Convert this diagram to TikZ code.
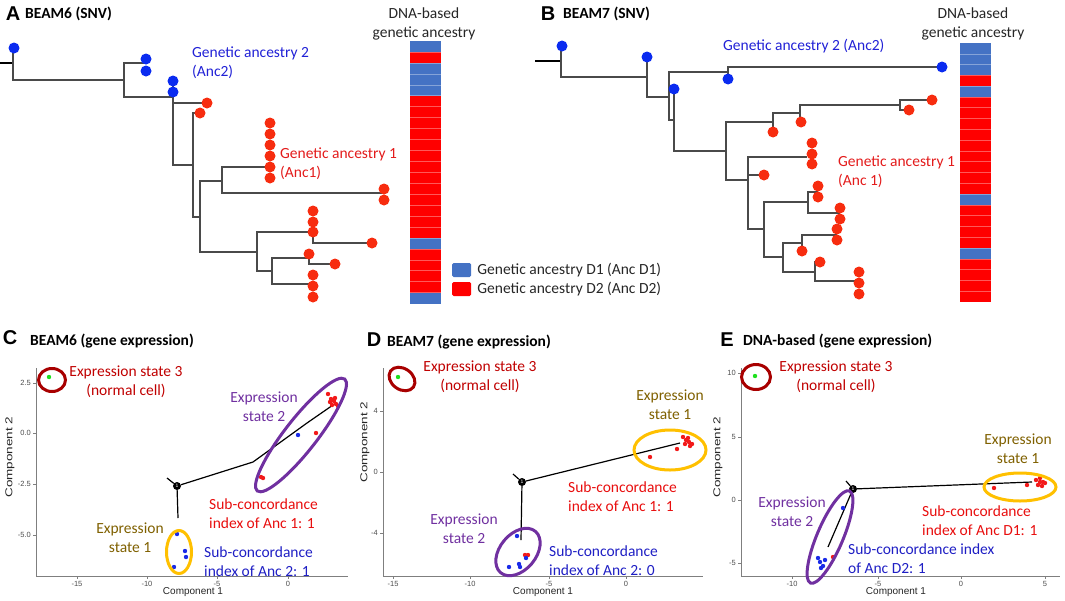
\documentclass[tikz,border=0pt]{standalone}
\usepackage{fontspec}
\setmainfont{Carlito}
\newfontfamily\arialfont{Liberation Sans}
\usetikzlibrary{positioning}
\definecolor{treeline}{HTML}{4A4A4A}
\definecolor{tipblue}{HTML}{0A2BF0}
\definecolor{tipred}{HTML}{F72C0F}
\definecolor{barbb}{HTML}{4472C4}
\definecolor{barrr}{HTML}{FF0000}
\definecolor{ancblue}{HTML}{2121D6}
\definecolor{ancred}{HTML}{E31B1B}
\definecolor{txtdred}{HTML}{C00000}
\definecolor{txtolive}{HTML}{7F6000}
\definecolor{txtpurple}{HTML}{7030A0}
\definecolor{subred}{HTML}{E80E0E}
\definecolor{subblue}{HTML}{1F1FC4}
\definecolor{ringred}{HTML}{A80000}
\definecolor{ringorange}{HTML}{FFC000}
\definecolor{ptgreen}{HTML}{1EE01E}
\definecolor{ptred}{HTML}{F21A1A}
\definecolor{ptblue}{HTML}{1A2BE8}
\definecolor{axgray}{HTML}{7F7F7F}
\definecolor{tickgray}{HTML}{4D4D4D}

\begin{document}
\begin{tikzpicture}[x=1pt,y=-1pt,
 panel/.style={font=\arialfont\bfseries\fontsize{20}{20}\selectfont,inner sep=0},
 ttl/.style={font=\bfseries\fontsize{15.5}{19}\selectfont,inner sep=0,anchor=west},
 lbl/.style={font=\fontsize{15.5}{19}\selectfont,inner sep=0,align=left},
 clbl/.style={lbl,align=center},
 branch/.style={draw=treeline,line width=1.3pt},
 legsq/.style={rounded corners=1.5pt,minimum width=19pt,minimum height=14pt,inner sep=0},
 tick/.style={font=\arialfont\fontsize{7.5}{8}\selectfont,text=tickgray,inner sep=0},
 axlab/.style={font=\arialfont\fontsize{10}{10}\selectfont,text=black!85,inner sep=0},
 axis/.style={draw=axgray,line width=0.8pt},
 ring/.style={line width=3pt},
 traj/.style={draw=black,line width=1.2pt},
 knot/.style={circle,fill=black,minimum size=8pt,inner sep=0,text=white,font=\arialfont\fontsize{5}{5}\selectfont}]
\useasboundingbox (0,0) rectangle (1065,600);

% A: BEAM6 tree
\node[panel] (letA) at (13,14) {A};
\node[ttl] (titA) at (25,14) {BEAM6 (SNV)};
\draw[black,line width=1.3pt] (0,63) -- (13,63);
\draw[branch] (13,48) -- (13,80) -- (124,80);
\draw[branch] (146,63) -- (124,63) -- (124,97) -- (173,97);
\draw[branch] (173,81) -- (173,165) -- (193,165);
\draw[branch] (173,103) -- (207,103);
\draw[branch] (200,113) -- (193,113) -- (193,217) -- (200,217);
\draw[branch] (222,181) -- (200,181) -- (200,252) -- (257,252);
\draw[branch] (270,167) -- (222,167) -- (222,193) -- (384,193);
\draw[branch] (313,232) -- (257,232) -- (257,271) -- (272,271);
\draw[branch] (313,232) -- (313,243) -- (372,243);
\draw[branch] (309,258) -- (272,258) -- (272,284) -- (313,284);
\draw[branch] (309,254) -- (309,264) -- (335,264);
\foreach \x/\y in {14/48,146/59,146/71,173/81,173/92}
  \fill[tipblue] (\x,\y) circle (5.5);
\foreach \x/\y in {207/103,200/113,270/123,270/134,270/145,270/156,270/167,270/178,384/189,384/200,
  313/211,313/222,313/232,372/243,309/254,335/264,313/275,313/286,313/297}
  \fill[tipred] (\x,\y) circle (5.5);
\node[lbl,text=ancblue,anchor=west] (anc2A) at (192,62.5) {Genetic ancestry 2\\(Anc2)};
\node[lbl,text=ancred,anchor=west] (anc1A) at (280,163.5) {Genetic ancestry 1\\(Anc1)};

% A: DNA-based bar and legend
\node[clbl,text=black!85] (hdrA) at (424,23.5) {DNA-based\\genetic ancestry};
\foreach \c [count=\i from 0] in {bb,rr,bb,bb,bb,rr,rr,rr,rr,rr,rr,rr,rr,rr,rr,rr,rr,rr,bb,rr,rr,rr,rr,bb}
  \fill[fill=bar\c] (410,41+\i*10.94) rectangle ++(31,10.94);
\foreach \i in {1,...,23}
  \draw[white,opacity=.35,line width=.5pt] (410,41+\i*10.94) -- ++(31,0);
\node[legsq,fill=barbb] (legD1) at (461.5,270) {};
\node[legsq,fill=barrr] (legD2) at (461.5,289) {};
\node[lbl,text=black!85,right=6pt of legD1] (legtxt1) {Genetic ancestry D1 (Anc D1)};
\node[lbl,text=black!85,right=6pt of legD2] (legtxt2) {Genetic ancestry D2 (Anc D2)};

% B: BEAM7 tree
\node[panel] (letB) at (548,14) {B};
\node[ttl] (titB) at (563,14) {BEAM7 (SNV)};
\draw[black,line width=1.3pt] (535,61) -- (561,61);
\draw[branch] (561,46) -- (561,77) -- (647,77);
\draw[branch] (647,57) -- (647,97) -- (669,97);
\draw[branch] (728,72) -- (669,72) -- (669,120) -- (674,120);
\draw[branch] (942,67) -- (728,67) -- (728,79);
\draw[branch] (674,89) -- (674,151) -- (726,151);
\draw[branch] (773,122) -- (726,122) -- (726,180) -- (748,180);
\draw[branch] (800,113) -- (773,113) -- (773,132);
\draw[branch] (900,105) -- (800,105) -- (800,122);
\draw[branch] (932,100) -- (900,100) -- (900,110) -- (909,110);
\draw[branch] (807,157) -- (748,157) -- (748,229) -- (764,229);
\draw[branch] (748,175) -- (764,175);
\draw[branch] (808,202) -- (764,202) -- (764,257) -- (783,257);
\draw[branch] (818,192) -- (808,192) -- (808,213) -- (840,213);
\draw[branch] (802,243) -- (783,243) -- (783,272) -- (815,272);
\draw[branch] (837,235) -- (802,235) -- (802,251);
\draw[branch] (820,262) -- (815,262) -- (815,281) -- (858,281);
\foreach \x/\y in {562/46,647/57,674/89,728/79,942/67}
  \fill[tipblue] (\x,\y) circle (5.5);
\foreach \x/\y in {773/132,801/122,932/100,909/110,812/143,812/154,812/164,764/175,818/186,818/197,
  840/208,840/219,837/229,837/240,802/251,820/262,859/272,859/283,859/294}
  \fill[tipred] (\x,\y) circle (5.5);
\node[lbl,text=ancblue,anchor=west] (anc2B) at (723,46) {Genetic ancestry 2 (Anc2)};
\node[lbl,text=ancred,anchor=west] (anc1B) at (838,172) {Genetic ancestry 1\\(Anc 1)};
\node[clbl,text=black!85] (hdrB) at (973,24) {DNA-based\\genetic ancestry};
\foreach \c [count=\i from 0] in {bb,bb,bb,rr,bb,rr,rr,rr,rr,rr,rr,rr,rr,rr,bb,rr,rr,rr,rr,bb,rr,rr,rr,rr}
  \fill[fill=bar\c] (960,43+\i*10.79) rectangle ++(31,10.79);
\foreach \i in {1,...,23}
  \draw[white,opacity=.35,line width=.5pt] (960,43+\i*10.79) -- ++(31,0);

% C: BEAM6 expression
\node[panel] (letC) at (10,338) {C};
\node[ttl] (titC) at (30,341) {BEAM6 (gene expression)};
\draw[axis] (36,368) -- (36,576) -- (348,576);
\foreach \v/\y [count=\i] in {2.5/383,0.0/433,-2.5/484,-5.0/535} {
  \draw[axis] (33,\y) -- (36,\y);
  \node[tick,anchor=east] (ytC\i) at (31,\y) {\v};}
\foreach \v/\x [count=\i] in {-15/77,-10/147,-5/217,0/288} {
  \draw[axis] (\x,576) -- (\x,579);
  \node[tick] (xtC\i) at (\x,584) {\v};}
\node[axlab] (xlabC) at (193,592) {Component 1};
\node[axlab,rotate=90,xscale=1.35] (ylabC) at (10,457) {Component 2};
\node[knot] (brC) at (177,486) {1};
\coordinate (tC1) at (333,405);
\coordinate (tC2) at (178,518);
\coordinate (tC3) at (167,478);
\draw[traj] (brC) -- (253,462) -- (307,423) -- (tC1);
\draw[traj] (brC) -- (tC2);
\draw[traj] (brC) -- (tC3);
\fill[ptgreen] (49,377) circle (2.2);
\foreach \x/\y in {328/394,331/399,334/401,336/404,332/405,338/406,330/402,335/398,316/433,261/477,263/478}
  \fill[ptred] (\x,\y) circle (2.2);
\foreach \x/\y in {298/435,177/534,185/551,186/557,174/567}
  \fill[ptblue] (\x,\y) circle (2.2);
\draw[ring,ringred] (52,380) ellipse [x radius=13.5, y radius=11.5];
\draw[ring,txtpurple,rotate around={52:(301,435)}] (301,435) ellipse [x radius=71, y radius=16];
\draw[ring,ringorange] (179,552) ellipse [x radius=12.5, y radius=21.5];
\node[clbl,text=txtdred] (st3C) at (126,381.5) {Expression state 3\\(normal cell)};
\node[clbl,text=txtpurple] (st2C) at (264,406.5) {Expression\\state 2};
\node[clbl,text=txtolive] (st1C) at (130,537.5) {Expression\\state 1};
\node[lbl,text=subred,anchor=west] (subC1) at (209,513.5) {Sub-concordance\\index of Anc 1: 1};
\node[lbl,text=subblue,anchor=west] (subC2) at (204,562) {Sub-concordance\\index of Anc 2: 1};

% D: BEAM7 expression
\node[panel] (letD) at (374,340) {D};
\node[ttl] (titD) at (387,342) {BEAM7 (gene expression)};
\draw[axis] (383,368) -- (383,576) -- (703,576);
\foreach \v/\y [count=\i] in {4/411,0/472,-4/533} {
  \draw[axis] (380,\y) -- (383,\y);
  \node[tick,anchor=east] (ytD\i) at (378,\y) {\v};}
\foreach \v/\x [count=\i] in {-15/393,-10/470,-5/549,0/626} {
  \draw[axis] (\x,576) -- (\x,579);
  \node[tick] (xtD\i) at (\x,584) {\v};}
\node[axlab] (xlabD) at (543,592) {Component 1};
\node[axlab,rotate=90,xscale=1.35] (ylabD) at (365,442) {Component 2};
\node[knot] (brD) at (522,482) {1};
\coordinate (tD1) at (680,443);
\coordinate (tD2) at (521,540);
\coordinate (tD3) at (513,474);
\draw[traj] (brD) -- (tD1);
\draw[traj] (brD) -- (tD2);
\draw[traj] (brD) -- (tD3);
\fill[ptgreen] (398,377) circle (2.2);
\foreach \x/\y in {683/437,686/440,689/442,692/444,685/444,688/438,690/446,677/449,650/457,525/555,528/555}
  \fill[ptred] (\x,\y) circle (2.2);
\foreach \x/\y in {517/536,526/558,519/564,520/567,509/567}
  \fill[ptblue] (\x,\y) circle (2.2);
\draw[ring,ringred,rotate around={-35:(402,379)}] (402,379) ellipse [x radius=14, y radius=10.5];
\draw[ring,ringorange] (670,450) ellipse [x radius=36, y radius=20];
\draw[ring,txtpurple,rotate around={50:(518,552)}] (518,552) ellipse [x radius=27, y radius=18];
\node[clbl,text=txtdred] (st3D) at (480,376.5) {Expression state 3\\(normal cell)};
\node[clbl,text=txtolive] (st1D) at (670,404.5) {Expression\\state 1};
\node[clbl,text=txtpurple] (st2D) at (464,529) {Expression\\state 2};
\node[lbl,text=subred,anchor=west] (subD1) at (568,496.5) {Sub-concordance\\index of Anc 1: 1};
\node[lbl,text=subblue,anchor=west] (subD2) at (549,561) {Sub-concordance\\index of Anc 2: 0};

% E: DNA-based expression
\node[panel] (letE) at (727,340) {E};
\node[ttl] (titE) at (743,341) {DNA-based (gene expression)};
\draw[axis] (741,368) -- (741,576) -- (1060,576);
\foreach \v/\y [count=\i] in {10/373,5/437,0/500,-5/563} {
  \draw[axis] (738,\y) -- (741,\y);
  \node[tick,anchor=east] (ytE\i) at (736,\y) {\v};}
\foreach \v/\x [count=\i] in {-10/792,-5/878,0/961,5/1045} {
  \draw[axis] (\x,576) -- (\x,579);
  \node[tick] (xtE\i) at (\x,584) {\v};}
\node[axlab] (xlabE) at (896,592) {Component 1};
\node[axlab,rotate=90,xscale=1.35] (ylabE) at (718,457) {Component 2};
\node[knot] (brE) at (853,489) {1};
\coordinate (tE1) at (1032,482);
\coordinate (tE2) at (828,547);
\coordinate (tE3) at (846,481);
\draw[traj] (brE) -- (tE1);
\draw[traj] (brE) -- (tE2);
\draw[traj] (brE) -- (tE3);
\fill[ptgreen] (755,376) circle (2.2);
\foreach \x/\y in {1036/480,1040/478,1043/482,1038/485,1042/486,1045/483,1040/482,1027/485,994/488,833/557}
  \fill[ptred] (\x,\y) circle (2.2);
\foreach \x/\y in {843/508,818/558,820/562,823/566,825/560,821/568}
  \fill[ptblue] (\x,\y) circle (2.2);
\draw[ring,ringred] (756,377) ellipse [x radius=14.5, y radius=12.5];
\draw[ring,ringorange] (1020,487) ellipse [x radius=36, y radius=14];
\draw[ring,txtpurple,rotate around={67:(830,537)}] (830,537) ellipse [x radius=50, y radius=13];
\node[clbl,text=txtdred] (st3E) at (836,376.5) {Expression state 3\\(normal cell)};
\node[clbl,text=txtolive] (st1E) at (1018,449) {Expression\\state 1};
\node[clbl,text=txtpurple] (st2E) at (792,511.5) {Expression\\state 2};
\node[lbl,text=subred,anchor=west] (subE1) at (922,521) {Sub-concordance\\index of Anc D1: 1};
\node[lbl,text=subblue,anchor=west] (subE2) at (848,558.5) {Sub-concordance index\\of Anc D2: 1};
\end{tikzpicture}
\end{document}
